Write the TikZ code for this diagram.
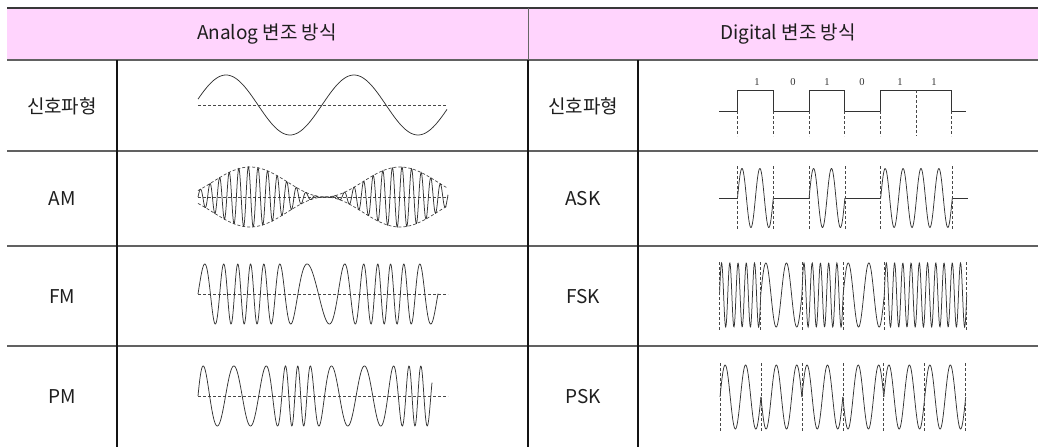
\documentclass[tikz,border=0pt]{standalone}
\usepackage{fontspec}
\setmainfont{Noto Sans CJK KR}
\newfontfamily\bitfont{Liberation Serif}
\definecolor{headpink}{RGB}{255,212,253}
\definecolor{ink}{RGB}{30,30,30}
\begin{document}
\begin{tikzpicture}[x=1pt,y=-1pt,
  hline/.style={line width=1.6pt, draw=black!62},
  topline/.style={line width=2.4pt, draw=black!78},
  vline/.style={line width=1.2pt, draw=black!92},
  wave/.style={line width=0.75pt, draw=black!80},
  guide/.style={line width=0.7pt, draw=black!72, dash pattern=on 3pt off 2pt},
  lbl/.style={font=\fontsize{19}{22}\selectfont, text=ink},
  bitlbl/.style={font=\bitfont\fontsize{10.5}{12}\selectfont, text=black!80}]
\useasboundingbox (0,0) rectangle (1045,447);

% header band and grid
\fill[headpink] (7,8) rectangle (1038,60);
\draw[topline] (7,8) -- (1038,8);
\foreach \yy in {60,151,246,346} \draw[hline] (7,\yy) -- (1038,\yy);
\draw[line width=1pt, draw=black!60] (528,8) -- (528,60);
\draw[vline] (117,60) -- (117,447);
\draw[vline] (528,60) -- (528,447);
\draw[vline] (638,60) -- (638,447);

% headings and row labels
\node[lbl] (hA) at (267,34) {Analog 변조 방식};
\node[lbl] (hD) at (788,34) {Digital 변조 방식};
\node[lbl] (l1) at (62,106) {신호파형};
\node[lbl] (l2) at (62,199) {AM};
\node[lbl] (l3) at (62,297) {FM};
\node[lbl] (l4) at (62,397) {PM};
\node[lbl] (r1) at (583,106) {신호파형};
\node[lbl] (r2) at (583,199) {ASK};
\node[lbl] (r3) at (583,297) {FSK};
\node[lbl] (r4) at (583,397) {PSK};

% ---------- analog: message signal ----------
\draw[guide] (198,105) -- (447,105);
\draw[wave] plot[domain=198:447, samples=160] (\x,{105-30*cos(2.8125*(\x-226))});

% ---------- AM ----------
\draw[guide] (198,197) -- (448,197);
\draw[guide] plot[domain=198:448, samples=120] (\x,{197-15*(1+cos(2.4*(\x-250)))});
\draw[guide] plot[domain=198:448, samples=120] (\x,{197+15*(1+cos(2.4*(\x-250)))});
\draw[wave] plot[domain=198:448, samples=700]
  (\x,{197-15*(1+cos(2.4*(\x-250)))*sin(37.5*(\x-198))});

% ---------- FM: frequency follows the message ----------
\draw[guide] (198,294) -- (448,294);
\draw[wave] plot[domain=198:438, samples=600]
  (\x,{294-30*sin(18.0*(\x-198)+231*(sin(2.5714*(\x-247))+0.809))});

% ---------- PM: sharp frequency bursts ----------
\draw[guide] (198,396) -- (448,396);
\draw[wave] plot[domain=198:432, samples=600]
  (\x,{396-30*sin(17.1*(\x-198)+11.93*(15*(sin(3.0252*(\x-297))-0.870)
     +3*(sin(6.0504*(\x-297))-0.857)+(sin(9.0756*(\x-297))+0.026)/3))});

% ---------- digital: bit stream 101011 ----------
\draw[wave] (719,111) -- (737.5,111) -- (737.5,90) -- (773.2,90) -- (773.2,111)
  -- (808.9,111) -- (808.9,90) -- (844.6,90) -- (844.6,111) -- (880.3,111)
  -- (880.3,90) -- (951.7,90) -- (951.7,111) -- (966,111);
\foreach \xx in {737.5,773.2,808.9,844.6,880.3,951.7} \draw[guide] (\xx,111) -- (\xx,136);
\draw[guide] (916,90) -- (916,136);
\foreach \xx/\bb [count=\k] in {757/1,793/0,827/1,862/0,900/1,934/1}
  \node[bitlbl] (bit\k) at (\xx,82) {\bb};

% ---------- ASK ----------
\draw[wave] (719,198) -- (737.5,198);
\draw[wave] (773.3,198) -- (809.1,198);
\draw[wave] (844.9,198) -- (880.7,198);
\draw[wave] (952.3,198) -- (968,198);
\foreach \a/\b in {737.5/773.3,809.1/844.9,880.7/952.3}
  \draw[wave] plot[domain=\a:\b, samples=120] (\x,{198-29.5*sin(20.1117*(\x-\a))});
\foreach \xx in {737.5,773.3,809.1,844.9,880.7,952.3} \draw[guide] (\xx,166) -- (\xx,230);

% ---------- FSK ----------
\foreach \n [count=\i from 0] in {5,2,5,2,5,5} {
  \pgfmathsetmacro\xa{719.5+41.2*\i}
  \pgfmathsetmacro\xb{719.5+41.2*(\i+1)}
  \pgfmathsetmacro\kf{360*\n/41.2}
  \draw[wave] plot[domain=\xa:\xb, samples=120] (\x,{295-32*sin(\kf*(\x-\xa))});
}
\foreach \xx in {719.5,760.7,801.9,843.1,884.3,966.7} \draw[guide] (\xx,262) -- (\xx,330);

% ---------- PSK ----------
\foreach \s [count=\i from 0] in {1,-1,1,-1,1,1} {
  \pgfmathsetmacro\xa{720+40.95*\i}
  \pgfmathsetmacro\xb{720+40.95*(\i+1)}
  \draw[wave] plot[domain=\xa:\xb, samples=80] (\x,{397-32*\s*sin(17.5824*(\x-\xa))});
}
\foreach \i in {0,...,6} {
  \pgfmathsetmacro\xx{720+40.95*\i}
  \draw[guide] (\xx,363) -- (\xx,431);
}
\end{tikzpicture}
\end{document}
